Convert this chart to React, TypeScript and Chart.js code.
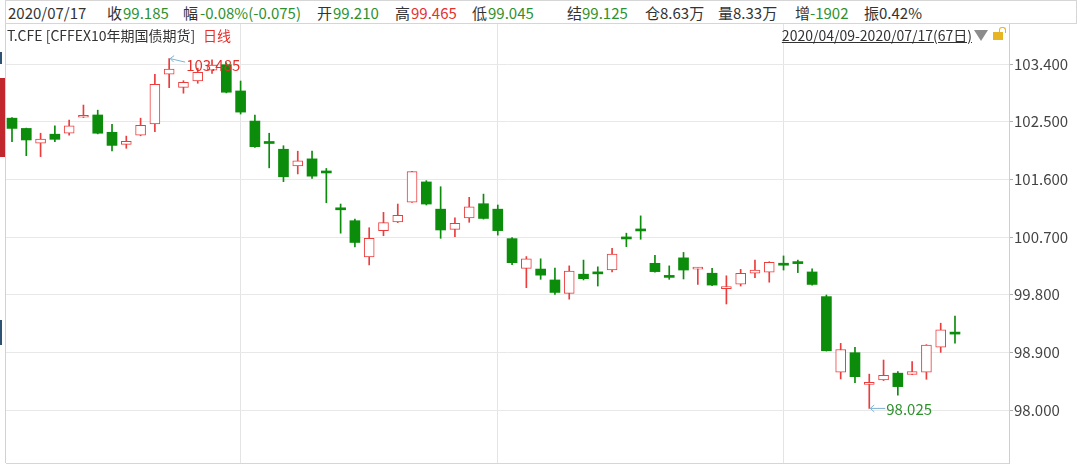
import React, { useEffect, useRef } from 'react';
import { Chart, registerables } from 'chart.js';

Chart.register(...registerables);

// ---- data ----
const dates = [
  '2020/04/09', '2020/04/10', '2020/04/13', '2020/04/14', '2020/04/15', '2020/04/16', '2020/04/17', '2020/04/20',
  '2020/04/21', '2020/04/22', '2020/04/23', '2020/04/24', '2020/04/27', '2020/04/28', '2020/04/29', '2020/04/30',
  '2020/05/06', '2020/05/07', '2020/05/08', '2020/05/11', '2020/05/12', '2020/05/13', '2020/05/14', '2020/05/15',
  '2020/05/18', '2020/05/19', '2020/05/20', '2020/05/21', '2020/05/22', '2020/05/25', '2020/05/26', '2020/05/27',
  '2020/05/28', '2020/05/29', '2020/06/01', '2020/06/02', '2020/06/03', '2020/06/04', '2020/06/05', '2020/06/08',
  '2020/06/09', '2020/06/10', '2020/06/11', '2020/06/12', '2020/06/15', '2020/06/16', '2020/06/17', '2020/06/18',
  '2020/06/19', '2020/06/22', '2020/06/23', '2020/06/24', '2020/06/29', '2020/06/30', '2020/07/01', '2020/07/02',
  '2020/07/03', '2020/07/06', '2020/07/07', '2020/07/08', '2020/07/09', '2020/07/10', '2020/07/13', '2020/07/14',
  '2020/07/15', '2020/07/16', '2020/07/17',
];

const opens = [
  102.555, 102.395, 102.165, 102.305, 102.32, 102.57, 102.605, 102.335, 102.145, 102.29,
  102.465, 103.24, 103.035, 103.135, 103.305, 103.39, 102.98, 102.51, 102.175, 102.07,
  101.81, 101.92, 101.71, 101.135, 100.955, 100.39, 100.8, 100.935, 101.245, 101.56,
  101.135, 100.82, 101.0, 101.22, 101.135, 100.675, 100.21, 100.2, 100.03, 99.82,
  100.12, 100.13, 100.185, 100.68, 100.8, 100.29, 100.095, 100.375, 100.2, 100.135,
  99.895, 99.965, 100.135, 100.15, 100.27, 100.29, 100.155, 99.77, 98.59, 98.895,
  98.4, 98.47, 98.575, 98.555, 98.59, 98.98, 99.21,
];
const highs = [
  102.565, 102.4, 102.32, 102.435, 102.525, 102.76, 102.68, 102.46, 102.275, 102.555,
  103.24, 103.485, 103.14, 103.335, 103.465, 103.42, 103.135, 102.605, 102.32, 102.125,
  102.04, 102.04, 101.77, 101.215, 100.98, 100.845, 101.085, 101.215, 101.725, 101.58,
  101.485, 101.0, 101.32, 101.37, 101.2, 100.69, 100.395, 100.36, 100.215, 100.25,
  100.34, 100.235, 100.525, 100.76, 101.03, 100.415, 100.25, 100.46, 100.225, 100.21,
  100.095, 100.195, 100.34, 100.315, 100.405, 100.34, 100.205, 99.795, 99.04, 98.98,
  98.56, 98.78, 98.6, 98.755, 99.02, 99.355, 99.465,
];
const lows = [
  102.19, 101.97, 101.955, 102.19, 102.29, 102.565, 102.31, 102.045, 102.085, 102.28,
  102.345, 103.03, 102.945, 103.1, 103.255, 102.95, 102.62, 102.1, 101.78, 101.565,
  101.685, 101.615, 101.235, 100.76, 100.545, 100.265, 100.72, 100.925, 101.24, 101.2,
  100.68, 100.705, 100.93, 100.98, 100.73, 100.27, 99.91, 100.04, 99.805, 99.73,
  100.03, 99.935, 100.155, 100.55, 100.665, 100.15, 100.04, 100.045, 99.96, 99.94,
  99.655, 99.935, 100.065, 99.995, 100.185, 100.145, 99.95, 98.92, 98.485, 98.425,
  98.025, 98.46, 98.23, 98.55, 98.48, 98.9, 99.045,
];
const closes = [
  102.395, 102.215, 102.23, 102.225, 102.435, 102.58, 102.32, 102.13, 102.195, 102.445,
  103.085, 103.32, 103.115, 103.27, 103.385, 102.96, 102.65, 102.11, 102.16, 101.64,
  101.89, 101.65, 101.7, 101.125, 100.615, 100.68, 100.925, 101.04, 101.72, 101.215,
  100.81, 100.915, 101.17, 100.99, 100.8, 100.3, 100.36, 100.105, 99.835, 100.17,
  100.05, 100.125, 100.435, 100.67, 100.795, 100.16, 100.07, 100.185, 100.205, 99.95,
  99.9, 100.135, 100.185, 100.305, 100.26, 100.285, 99.96, 98.925, 98.945, 98.52,
  98.41, 98.54, 98.365, 98.6, 99.015, 99.25, 99.185,
];

const yTickValues = [98.0, 98.9, 99.8, 100.7, 101.6, 102.5, 103.4];

const UP = '#ec3c3c';
const DOWN = '#0b8c0b';
const TXT_GREEN = '#2e912e';
const TXT_RED = '#e5302c';
const DARK = '#333333';
const FONT = '"Noto Sans CJK SC", "Noto Sans", sans-serif';

const idx = dates.map((_, i) => i);
const upIdx = idx.filter((i) => closes[i] >= opens[i]);
const dnIdx = idx.filter((i) => closes[i] < opens[i]);
const monthStartIdx = idx.filter((i) => i > 0 && dates[i].slice(5, 7) !== dates[i - 1].slice(5, 7));

const decorPlugin = {
  id: 'decor',
  beforeDatasetsDraw(chart: any) {
    const { ctx, chartArea } = chart;
    ctx.save();
    ctx.strokeStyle = '#d2d2d2';
    ctx.lineWidth = 1;
    const lx = Math.round(chartArea.left) - 0.5;
    ctx.beginPath();
    ctx.moveTo(lx, chartArea.top);
    ctx.lineTo(lx, chartArea.bottom);
    ctx.stroke();
    ctx.restore();
  },
  afterDatasetsDraw(chart: any) {
    const { ctx } = chart;
    const xs = chart.scales.x;
    const ys = chart.scales.y;
    const iH = highs.indexOf(Math.max(...highs));
    const iL = lows.indexOf(Math.min(...lows));
    ctx.save();
    ctx.lineWidth = 1;
    ctx.strokeStyle = '#7fb3d2';
    ctx.font = `15px ${FONT}`;
    ctx.textAlign = 'left';
    ctx.textBaseline = 'middle';

    const hx = xs.getPixelForValue(iH);
    const hy = ys.getPixelForValue(highs[iH]);
    ctx.beginPath();
    ctx.moveTo(hx + 1, hy);
    ctx.lineTo(hx + 16, hy + 3.5);
    ctx.stroke();
    ctx.beginPath();
    ctx.moveTo(hx + 5, hy - 3);
    ctx.lineTo(hx + 1, hy);
    ctx.lineTo(hx + 4.5, hy + 3.5);
    ctx.stroke();
    ctx.fillStyle = TXT_RED;
    ctx.fillText(highs[iH].toFixed(3), hx + 17, hy + 6.5);

    const lx = xs.getPixelForValue(iL);
    const ly = ys.getPixelForValue(lows[iL]);
    ctx.beginPath();
    ctx.moveTo(lx + 1, ly);
    ctx.lineTo(lx + 16, ly);
    ctx.stroke();
    ctx.beginPath();
    ctx.moveTo(lx + 5, ly - 3.5);
    ctx.lineTo(lx + 1, ly);
    ctx.lineTo(lx + 5, ly + 3.5);
    ctx.stroke();
    ctx.fillStyle = TXT_GREEN;
    ctx.fillText(lows[iL].toFixed(3), lx + 17, ly + 0.5);
    ctx.restore();
  },
};

function CandleChart() {
  const ref = useRef<HTMLCanvasElement | null>(null);
  useEffect(() => {
    if (!ref.current) return;
    const chart = new Chart(ref.current, {
      type: 'bar',
      data: {
        datasets: [
          {
            label: 'wickUp',
            data: upIdx.map((i) => ({ x: i, y: [lows[i], highs[i]] })),
            backgroundColor: UP,
            barThickness: 1,
            grouped: false,
            order: 3,
          } as any,
          {
            label: 'wickDown',
            data: dnIdx.map((i) => ({ x: i, y: [lows[i], highs[i]] })),
            backgroundColor: DOWN,
            barThickness: 1,
            grouped: false,
            order: 3,
          } as any,
          {
            label: 'bodyUp',
            data: upIdx.map((i) => ({ x: i, y: [opens[i], closes[i]] })),
            backgroundColor: '#ffffff',
            borderColor: UP,
            borderWidth: 1,
            borderSkipped: false,
            barThickness: 10,
            grouped: false,
            minBarLength: 2,
            order: 1,
          } as any,
          {
            label: 'bodyDown',
            data: dnIdx.map((i) => ({ x: i, y: [opens[i], closes[i]] })),
            backgroundColor: DOWN,
            borderWidth: 0,
            borderSkipped: false,
            barThickness: 10,
            grouped: false,
            minBarLength: 2,
            order: 1,
          } as any,
        ],
      },
      options: {
        animation: false,
        responsive: false,
        devicePixelRatio: 1,
        layout: { padding: { left: 6, top: 24, right: 0, bottom: 3 } },
        plugins: { legend: { display: false }, tooltip: { enabled: false } },
        scales: {
          x: {
            type: 'linear',
            offset: false,
            min: -0.42,
            max: 69.78,
            afterBuildTicks: (s: any) => {
              s.ticks = monthStartIdx.map((v) => ({ value: v }));
            },
            afterFit: (s: any) => {
              s.height = 0;
              s.paddingLeft = 0;
              s.paddingRight = 0;
            },
            ticks: { display: false },
            grid: { color: '#e4e4e4', drawTicks: false, offset: false },
            border: { color: '#d6d6d6' },
          },
          y: {
            position: 'right',
            min: 97.173,
            max: 104.025,
            afterBuildTicks: (s: any) => {
              s.ticks = yTickValues.map((v) => ({ value: v }));
            },
            afterFit: (s: any) => {
              s.width = 71;
              s.paddingTop = 0;
              s.paddingBottom = 0;
            },
            ticks: {
              callback: (v: any) => Number(v).toFixed(3),
              color: '#444444',
              font: { family: FONT, size: 15 },
              padding: 1,
            },
            grid: { color: '#e8e8e8', tickLength: 4, tickColor: '#b0b0b0' },
            border: { color: '#cfcfcf' },
          },
        },
      } as any,
      plugins: [decorPlugin],
    });
    return () => chart.destroy();
  }, []);
  return <canvas ref={ref} width={1080} height={466} style={{ display: 'block' }} />;
}

const row1: [string, number, string][] = [
  ['2020/07/17', 8, DARK],
  ['收', 107, DARK],
  ['99.185', 123, TXT_GREEN],
  ['幅', 183, DARK],
  ['-0.08%(-0.075)', 200, TXT_GREEN],
  ['开', 317, DARK],
  ['99.210', 333, TXT_GREEN],
  ['高', 395, DARK],
  ['99.465', 411, TXT_RED],
  ['低', 472, DARK],
  ['99.045', 488, TXT_GREEN],
  ['结', 567, DARK],
  ['99.125', 582, TXT_GREEN],
  ['仓8.63万', 645, DARK],
  ['量8.33万', 718, DARK],
  ['增', 795, DARK],
  ['-1902', 810, TXT_GREEN],
  ['振0.42%', 864, DARK],
];

export default function App() {
  const abs = (extra: any) => ({ position: 'absolute' as const, whiteSpace: 'nowrap' as const, ...extra });
  return (
    <div
      style={{
        position: 'fixed',
        left: 0,
        top: 0,
        width: 1080,
        height: 466,
        background: '#ffffff',
        overflow: 'hidden',
        fontFamily: FONT,
      }}
    >
      <div style={{ position: 'absolute', left: 0, top: 0 }}>
        <CandleChart />
      </div>
      {/* header box */}
      <div
        style={abs({
          left: 5,
          top: 0,
          width: 1072,
          height: 24,
          boxSizing: 'border-box',
          border: '1px solid #d6d6d6',
          background: '#ffffff',
        })}
      />
      {row1.map(([t, x, c], k) => (
        <span key={k} style={abs({ left: x, top: 4.5, fontSize: 15, lineHeight: '16px', color: c })}>
          {t}
        </span>
      ))}
      {/* second row */}
      <span style={abs({ left: 7, top: 26.5, fontSize: 14, lineHeight: '16px', color: DARK })}>
        T.CFE [CFFEX10年期国债期货]
      </span>
      <span style={abs({ left: 203, top: 26.5, fontSize: 14, lineHeight: '16px', color: TXT_RED })}>日线</span>
      <span
        style={abs({
          right: 108,
          top: 26.5,
          fontSize: 14,
          lineHeight: '16px',
          color: DARK,
          textDecoration: 'underline',
        })}
      >
        2020/04/09-2020/07/17(67日)
      </span>
      <div
        style={abs({
          left: 974,
          top: 30,
          width: 0,
          height: 0,
          borderLeft: '7px solid transparent',
          borderRight: '7px solid transparent',
          borderTop: '11px solid #8c8c8c',
        })}
      />
      <div style={abs({ left: 993, top: 32, width: 10, height: 8, background: '#e7b424' })} />
      <div
        style={abs({
          left: 999,
          top: 27,
          width: 5,
          height: 5,
          border: '1.5px solid #e7b424',
          borderBottom: 'none',
          borderRadius: '3px 3px 0 0',
        })}
      />
      {/* cut-off left panel fragments */}
      <div style={abs({ left: 0, top: 52, width: 2, height: 12, background: '#2d5273' })} />
      <div style={abs({ left: 0, top: 78, width: 5, height: 79, background: '#c1272d' })} />
      <div style={abs({ left: 0, top: 320, width: 2, height: 25, background: '#2d5273' })} />
    </div>
  );
}
